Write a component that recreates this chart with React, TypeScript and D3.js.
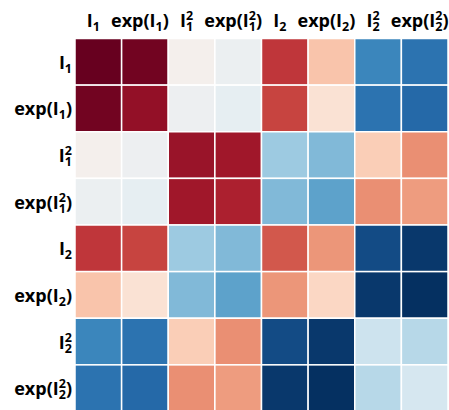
import React from "react";
import * as d3 from "d3";

// Variable names: base, sub index, optional superscript, wrapped in exp()
const names = ["I1", "expI1", "I1sq", "expI1sq", "I2", "expI2", "I2sq", "expI2sq"];
const labelParts: { sub: string; sup: string | null; exp: boolean }[] = [
  { sub: "1", sup: null, exp: false },
  { sub: "1", sup: null, exp: true },
  { sub: "1", sup: "2", exp: false },
  { sub: "1", sup: "2", exp: true },
  { sub: "2", sup: null, exp: false },
  { sub: "2", sup: null, exp: true },
  { sub: "2", sup: "2", exp: false },
  { sub: "2", sup: "2", exp: true },
];

// Correlation rows
const rowI1 = [1.0, 0.97, 0.02, -0.05, 0.72, 0.28, -0.66, -0.74];
const rowExpI1 = [0.97, 0.88, -0.04, -0.08, 0.68, 0.14, -0.74, -0.78];
const rowI1sq = [0.02, -0.04, 0.86, 0.84, -0.36, -0.44, 0.24, 0.46];
const rowExpI1sq = [-0.05, -0.08, 0.84, 0.8, -0.44, -0.54, 0.46, 0.42];
const rowI2 = [0.72, 0.68, -0.36, -0.44, 0.62, 0.44, -0.9, -0.97];
const rowExpI2 = [0.28, 0.14, -0.44, -0.54, 0.44, 0.2, -0.97, -1.0];
const rowI2sq = [-0.66, -0.74, 0.24, 0.46, -0.9, -0.97, -0.2, -0.28];
const rowExpI2sq = [-0.74, -0.78, 0.46, 0.42, -0.97, -1.0, -0.28, -0.16];

const matrix = [rowI1, rowExpI1, rowI1sq, rowExpI1sq, rowI2, rowExpI2, rowI2sq, rowExpI2sq];

const W = 449;
const H = 410;
const left = 75;
const top = 38.5;
const side = 373;

const FONT = "'Open Sans', sans-serif";
const FS = 18;
const SFS = 12.5;

function Label({ part, x, y, anchor }: { part: typeof labelParts[number]; x: number; y: number; anchor: "middle" | "end" }) {
  const scriptW = SFS * 0.572;
  return (
    <text x={x} y={y} textAnchor={anchor} fontFamily={FONT} fontWeight={700} fontSize={FS} fill="#000">
      {part.exp ? "exp(" : ""}
      I
      {part.sup ? (
        <>
          <tspan fontSize={SFS} dy={-7}>{part.sup}</tspan>
          <tspan fontSize={SFS} dx={-scriptW} dy={11}>{part.sub}</tspan>
          <tspan dy={-4}>{part.exp ? ")" : ""}</tspan>
        </>
      ) : (
        <>
          <tspan fontSize={SFS} dy={4}>{part.sub}</tspan>
          <tspan dy={-4}>{part.exp ? ")" : ""}</tspan>
        </>
      )}
    </text>
  );
}

export default function App() {
  const x = d3.scaleBand<string>().domain(names).range([left, left + side]);
  const y = d3.scaleBand<string>().domain(names).range([top, top + side]);
  const color = d3.scaleSequential(d3.interpolateRdBu).domain([1, -1]);
  const bw = x.bandwidth();

  return (
    <svg width={W} height={H} style={{ position: "absolute", left: 0, top: 0, background: "#fff" }}>
      {matrix.map((row, i) =>
        row.map((v, j) => (
          <rect
            key={`${i}-${j}`}
            x={x(names[j])!}
            y={y(names[i])!}
            width={bw}
            height={bw}
            fill={color(v)}
            stroke="#fff"
            strokeWidth={1.5}
          />
        ))
      )}
      {labelParts.map((p, i) => (
        <Label key={`t${i}`} part={p} x={x(names[i])! + bw / 2 - 5} y={27} anchor="middle" />
      ))}
      {labelParts.map((p, i) => (
        <Label key={`l${i}`} part={p} x={72} y={y(names[i])! + bw / 2 + 7} anchor="end" />
      ))}
    </svg>
  );
}
